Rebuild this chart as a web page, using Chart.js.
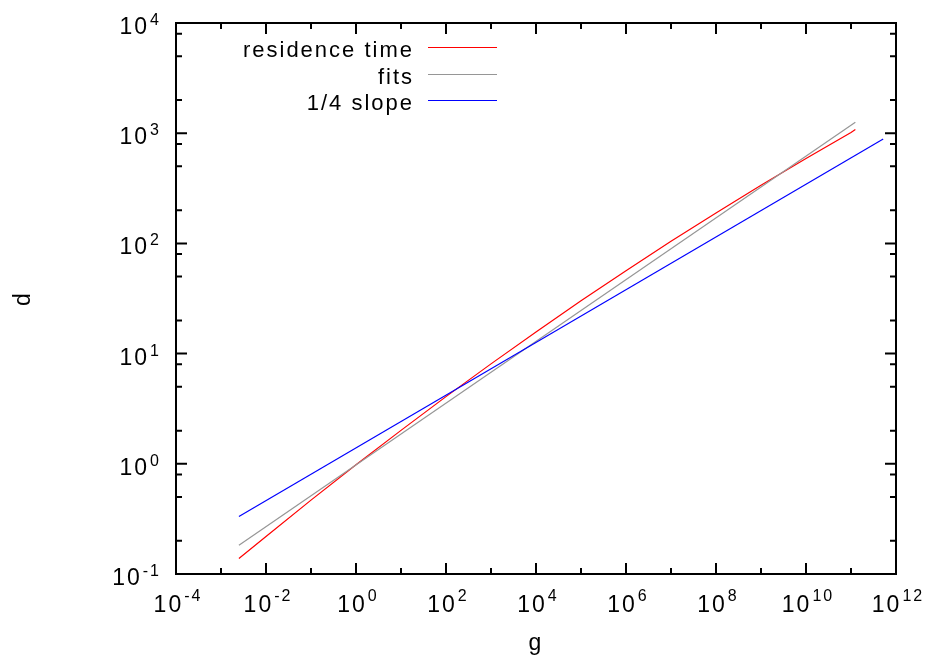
<!DOCTYPE html>
<html>
<head>
<meta charset="utf-8">
<script src="https://cdn.jsdelivr.net/npm/chart.js@4/dist/chart.umd.min.js"></script>
<style>
  body { margin: 0; background: #fff; }
</style>
</head>
<body>
<canvas id="plot" width="926" height="659"></canvas>
<script>
// residence time vs g
const gResidence = [0.0025, 0.01, 0.1, 1, 10, 1e2, 1e3, 1e4, 1e5, 1e6, 1e7, 1e8, 1e9, 1e10, 1e11, 1.25e11];
const dResidence = [0.138, 0.219, 0.468, 0.98, 2.01, 4.07, 8.07, 15.7, 30.1, 56.6, 104.5, 189, 337, 590, 1014, 1080];

// power-law fit
const gFits = [0.0025, 1.25e11];
const dFits = [0.182, 1256];

// reference line
const gQuarter = [0.0025, 5.2e11];
const dQuarter = [0.333, 885];

const seriesLabels = ["residence time", "fits", "1/4 slope"];
const seriesColors = ["rgb(255,0,0)", "rgb(150,150,150)", "rgb(0,0,255)"];

// axis decorations (exponents of ten)
const xMajorExp = [-4, -2, 0, 2, 4, 6, 8, 10, 12];
const xMinorExp = [-3, -1, 1, 3, 5, 7, 9, 11];
const yMajorExp = [-1, 0, 1, 2, 3, 4];
const yMinorMant = [2, 5, 8];

const FONT = "'Liberation Sans', Arial, sans-serif";

const toPoints = (xs, ys) => xs.map((x, i) => ({ x: x, y: ys[i] }));

const setSpacing = (ctx, v) => {
  if ("letterSpacing" in ctx) ctx.letterSpacing = v;
};

// "10" with a raised exponent; align is "center" or "right"
const drawPower = (ctx, exp, x, y, align, rise) => {
  const base = "10";
  const sup = String(exp);
  ctx.font = "23px " + FONT;
  const wb = ctx.measureText(base).width;
  ctx.font = "16px " + FONT;
  const we = ctx.measureText(sup).width;
  const w = wb + 1 + we;
  const start = align === "center" ? x - w / 2 : x - w;
  ctx.textAlign = "left";
  ctx.font = "23px " + FONT;
  ctx.fillText(base, start, y);
  ctx.font = "16px " + FONT;
  ctx.fillText(sup, start + wb + 1, y - rise);
};

// frame with inward ticks on all sides, tick labels, axis titles and key
const framePlugin = {
  id: "frame",
  afterDatasetsDraw(chart) {
    const ctx = chart.ctx;
    const a = chart.chartArea;
    const xs = chart.scales.x;
    const ys = chart.scales.y;
    ctx.save();
    ctx.strokeStyle = "#000";
    ctx.fillStyle = "#000";
    ctx.lineWidth = 2;
    ctx.strokeRect(a.left, a.top, a.right - a.left, a.bottom - a.top);

    const vTick = (px, len) => {
      ctx.beginPath();
      ctx.moveTo(px, a.bottom);
      ctx.lineTo(px, a.bottom - len);
      ctx.moveTo(px, a.top);
      ctx.lineTo(px, a.top + len);
      ctx.stroke();
    };
    const hTick = (py, len) => {
      ctx.beginPath();
      ctx.moveTo(a.left, py);
      ctx.lineTo(a.left + len, py);
      ctx.moveTo(a.right, py);
      ctx.lineTo(a.right - len, py);
      ctx.stroke();
    };

    xMajorExp.forEach((e) => vTick(xs.getPixelForValue(Math.pow(10, e)), 11));
    xMinorExp.forEach((e) => vTick(xs.getPixelForValue(Math.pow(10, e)), 6));
    yMajorExp.forEach((e) => {
      hTick(ys.getPixelForValue(Math.pow(10, e)), 11);
      if (e < yMajorExp[yMajorExp.length - 1]) {
        yMinorMant.forEach((m) => hTick(ys.getPixelForValue(m * Math.pow(10, e)), 6));
      }
    });

    ctx.textBaseline = "alphabetic";
    setSpacing(ctx, "2px");
    xMajorExp.forEach((e) => {
      drawPower(ctx, e, xs.getPixelForValue(Math.pow(10, e)) + 2, a.bottom + 38, "center", 11);
    });
    yMajorExp.forEach((e) => {
      drawPower(ctx, e, 161, ys.getPixelForValue(Math.pow(10, e)) + 11, "right", 9);
    });

    // axis titles
    ctx.font = "23px " + FONT;
    ctx.textAlign = "center";
    ctx.fillText("g", (a.left + a.right) / 2, 650);
    ctx.save();
    ctx.translate(30, (a.top + a.bottom) / 2);
    ctx.rotate(-Math.PI / 2);
    ctx.fillText("d", 0, 0);
    ctx.restore();

    // key, text right-aligned before a short line sample
    ctx.font = "22px " + FONT;
    ctx.textAlign = "right";
    seriesLabels.forEach((label, i) => {
      const y = 47 + Math.round(i * 26.7);
      ctx.fillStyle = "#000";
      ctx.fillText(label, 414, y + 10);
      ctx.beginPath();
      ctx.strokeStyle = seriesColors[i];
      ctx.lineWidth = 1.2;
      ctx.moveTo(428, y + 0.5);
      ctx.lineTo(497, y + 0.5);
      ctx.stroke();
    });
    ctx.restore();
  },
};

const lineSet = (i, xs, ys, order) => ({
  label: seriesLabels[i],
  data: toPoints(xs, ys),
  showLine: true,
  borderColor: seriesColors[i],
  backgroundColor: seriesColors[i],
  borderWidth: 1.2,
  pointRadius: 0,
  fill: false,
  tension: 0,
  order: order,
});

new Chart(document.getElementById("plot"), {
  type: "scatter",
  data: {
    datasets: [
      lineSet(0, gResidence, dResidence, 3),
      lineSet(1, gFits, dFits, 2),
      lineSet(2, gQuarter, dQuarter, 1),
    ],
  },
  options: {
    responsive: false,
    animation: false,
    layout: { padding: { left: 176, right: 30, top: 23, bottom: 85 } },
    plugins: { legend: { display: false }, tooltip: { enabled: false } },
    scales: {
      x: { type: "logarithmic", min: 1e-4, max: 1e12, display: false },
      y: { type: "logarithmic", min: 0.1, max: 1e4, display: false },
    },
  },
  plugins: [framePlugin],
});
</script>
</body>
</html>
